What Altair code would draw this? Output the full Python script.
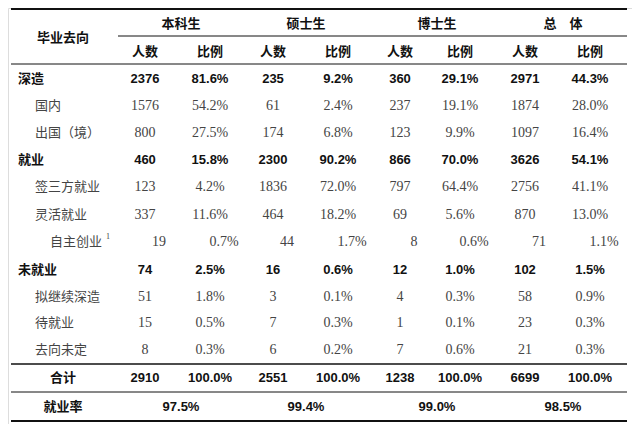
import altair as alt
import pandas as pd

# ---------------- data ----------------
row_labels = ["深造", "国内", "出国（境）", "就业", "签三方就业", "灵活就业", "自主创业",
              "未就业", "拟继续深造", "待就业", "去向未定", "合计"]
row_levels = [0, 1, 1, 0, 1, 1, 2, 0, 1, 1, 1, 3]   # 0 category, 1 sub, 2 sub-sub, 3 total
groups = ["本科生", "硕士生", "博士生", "总　体"]
sub_headers = ["人数", "比例"]

bachelor_n = [2376, 1576, 800, 460, 123, 337, 19, 74, 51, 15, 8, 2910]
bachelor_p = [81.6, 54.2, 27.5, 15.8, 4.2, 11.6, 0.7, 2.5, 1.8, 0.5, 0.3, 100.0]
master_n = [235, 61, 174, 2300, 1836, 464, 44, 16, 3, 7, 6, 2551]
master_p = [9.2, 2.4, 6.8, 90.2, 72.0, 18.2, 1.7, 0.6, 0.1, 0.3, 0.2, 100.0]
doctor_n = [360, 237, 123, 866, 797, 69, 8, 12, 4, 1, 7, 1238]
doctor_p = [29.1, 19.1, 9.9, 70.0, 64.4, 5.6, 0.6, 1.0, 0.3, 0.1, 0.6, 100.0]
total_n = [2971, 1874, 1097, 3626, 2756, 870, 71, 102, 58, 23, 21, 6699]
total_p = [44.3, 28.0, 16.4, 54.1, 41.1, 13.0, 1.1, 1.5, 0.9, 0.3, 0.3, 100.0]
employment_rate = [97.5, 99.4, 99.0, 98.5]

# ---------------- layout (screen pixels) ----------------
ROW_Y = [79, 106, 133, 160, 187, 215, 242, 270, 297, 323, 350, 378]
RATE_Y = 407
GROUP_Y, SUB_Y, HEAD_Y = 24, 52, 38
COL_X = [145, 210, 273, 338, 400, 460, 525, 590]
GROUP_X = [181, 306, 437, 563]
LEVEL_X = {0: 18, 1: 35, 2: 50}
LABEL_CX = 63
SUBSUB_SHIFT = 14
LEFT, RIGHT, SUB_LEFT = 11, 627, 118

cells = []
cells.append(dict(x=LABEL_CX, y=HEAD_Y, text="毕业去向", style="hdr"))
for gx, g in zip(GROUP_X, groups):
    cells.append(dict(x=gx, y=GROUP_Y, text=g, style="hdr"))
for i, cx in enumerate(COL_X):
    cells.append(dict(x=cx, y=SUB_Y, text=sub_headers[i % 2], style="hdr"))

series = [bachelor_n, bachelor_p, master_n, master_p, doctor_n, doctor_p, total_n, total_p]
for r, (lab, lev, ry) in enumerate(zip(row_labels, row_levels, ROW_Y)):
    if lev == 3:
        cells.append(dict(x=LABEL_CX, y=ry, text=lab, style="hdr"))
    elif lev == 0:
        cells.append(dict(x=LEVEL_X[0], y=ry, text=lab, style="cat"))
    else:
        cells.append(dict(x=LEVEL_X[lev], y=ry, text=lab, style="sub"))
    if lev == 2:
        cells.append(dict(x=LEVEL_X[2] + 58, y=ry - 5, text="1", style="sup"))
    bold = lev in (0, 3)
    shift = SUBSUB_SHIFT if lev == 2 else 0
    for c, (cx, s) in enumerate(zip(COL_X, series)):
        v = s[r]
        txt = f"{v}" if c % 2 == 0 else f"{v:.1f}%"
        cells.append(dict(x=cx + shift, y=ry, text=txt, style="numb" if bold else "num"))

cells.append(dict(x=LABEL_CX, y=RATE_Y, text="就业率", style="hdr"))
for gx, v in zip(GROUP_X, employment_rate):
    cells.append(dict(x=gx, y=RATE_Y, text=f"{v:.1f}%", style="numb"))

df = pd.DataFrame(cells)

lines = pd.DataFrame([
    dict(x=LEFT, x2=RIGHT, y=9, w="thick"),
    dict(x=SUB_LEFT, x2=RIGHT, y=36, w="thin"),
    dict(x=LEFT, x2=RIGHT, y=64, w="thin"),
    dict(x=LEFT, x2=RIGHT, y=364, w="mid"),
    dict(x=LEFT, x2=RIGHT, y=392, w="thin"),
    dict(x=LEFT, x2=RIGHT, y=421, w="thick"),
])

W, H = 624, 416
xs = alt.Scale(domain=[8, 8 + W], range=[0, W], nice=False, zero=False)
ys = alt.Scale(domain=[8, 8 + H], range=[0, H], nice=False, zero=False)

CJK = "Noto Sans CJK SC"
SERIF = "Liberation Serif"
SANS = "Liberation Sans"

styles = {
    "hdr": dict(font=CJK, fontWeight="bold", fontSize=13, align="center", color="#111"),
    "cat": dict(font=CJK, fontWeight="bold", fontSize=13, align="left", color="#111"),
    "sub": dict(font=CJK, fontWeight="normal", fontSize=13, align="left", color="#444"),
    "numb": dict(font=SANS, fontWeight="bold", fontSize=13, align="center", color="#111"),
    "num": dict(font=SERIF, fontWeight="normal", fontSize=14, align="center", color="#444"),
    "sup": dict(font=SERIF, fontWeight="normal", fontSize=8, align="center", color="#444"),
}

layers = []
for w, sw in [("thick", 2.2), ("thin", 1.0), ("mid", 1.4)]:
    layers.append(
        alt.Chart(lines[lines.w == w]).mark_rule(strokeWidth=sw, color="#111").encode(
            x=alt.X("x:Q", scale=xs, axis=None),
            x2="x2:Q",
            y=alt.Y("y:Q", scale=ys, axis=None),
        )
    )
for st, kw in styles.items():
    layers.append(
        alt.Chart(df[df["style"] == st]).mark_text(baseline="middle", **kw).encode(
            x=alt.X("x:Q", scale=xs, axis=None),
            y=alt.Y("y:Q", scale=ys, axis=None),
            text="text:N",
        )
    )

chart = alt.layer(*layers).properties(
    width=W, height=H, autosize="none", padding=0
).configure_view(stroke=None).configure(background="white")

chart.save("out.html", embed_options={"renderer": "svg", "actions": False})
